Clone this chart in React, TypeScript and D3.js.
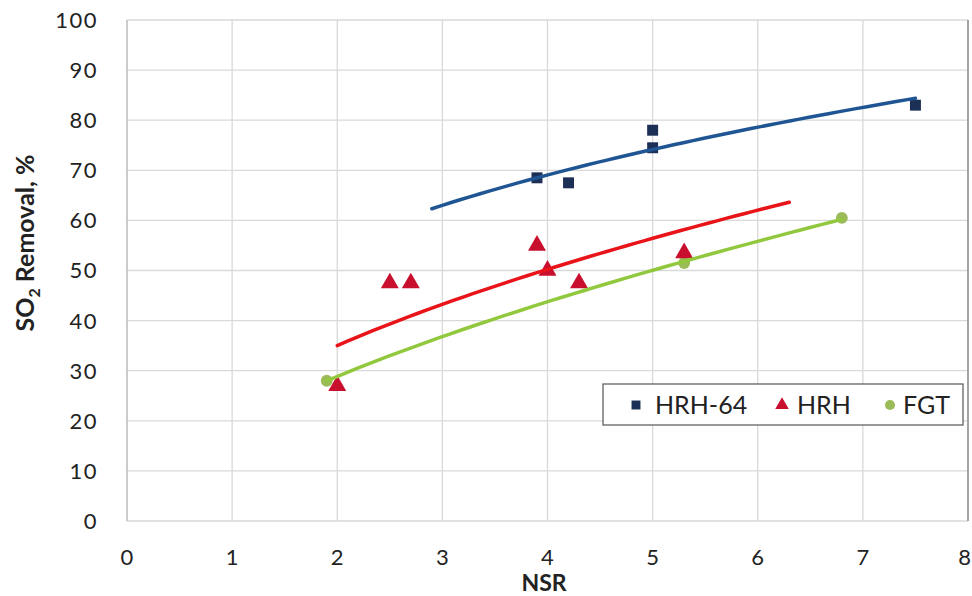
import React, { useEffect, useRef } from 'react';
import * as d3 from 'd3';

const hrh64X = [3.9, 4.2, 5.0, 5.0, 7.5];
const hrh64Y = [68.5, 67.5, 78, 74.5, 83];
const hrhX = [2.0, 2.5, 2.7, 3.9, 4.0, 4.3, 5.3];
const hrhY = [27, 47.5, 47.5, 55, 50, 47.5, 53.5];
const fgtX = [1.9, 5.3, 6.8];
const fgtY = [28, 51.5, 60.5];
// trendline x-ranges (as shown in the chart)
const hrh64Trend = [2.9, 7.5];
const hrhTrend = [2.0, 6.3];
const fgtTrend = [1.9, 6.8];
const xTicks = [0, 1, 2, 3, 4, 5, 6, 7, 8];
const yTicks = [0, 10, 20, 30, 40, 50, 60, 70, 80, 90, 100];

// Excel-style power trendline y = a * x^b
function powerFit(xs: number[], ys: number[]) {
  const lx = xs.map(Math.log);
  const ly = ys.map(Math.log);
  const mx = d3.mean(lx)!;
  const my = d3.mean(ly)!;
  let sxy = 0, sxx = 0;
  lx.forEach((v, i) => { sxy += (v - mx) * (ly[i] - my); sxx += (v - mx) * (v - mx); });
  const b = sxy / sxx;
  const a = Math.exp(my - b * mx);
  return (x: number) => a * Math.pow(x, b);
}

const FONT = 'Lato, "Open Sans", sans-serif';

const App = () => {
  const ref = useRef<SVGSVGElement>(null);

  useEffect(() => {
    const svg = d3.select(ref.current);
    svg.selectAll('*').remove();

    const x = d3.scaleLinear().domain([0, 8]).range([127, 968]);
    const y = d3.scaleLinear().domain([0, 100]).range([521, 20]);

    // grid
    svg.append('g').selectAll('line').data(xTicks).join('line')
      .attr('x1', d => x(d)).attr('x2', d => x(d))
      .attr('y1', y(0)).attr('y2', y(100))
      .attr('stroke', '#d9d9d9').attr('stroke-width', 1.3);
    svg.append('g').selectAll('line').data(yTicks).join('line')
      .attr('x1', x(0)).attr('x2', x(8))
      .attr('y1', d => y(d)).attr('y2', d => y(d))
      .attr('stroke', '#d9d9d9').attr('stroke-width', 1.3);
    svg.append('line').attr('x1', x(0)).attr('x2', x(0)).attr('y1', y(0)).attr('y2', y(100))
      .attr('stroke', '#bfbfbf').attr('stroke-width', 1.3);
    svg.append('line').attr('x1', x(8)).attr('x2', x(8)).attr('y1', y(0)).attr('y2', y(100))
      .attr('stroke', '#808080').attr('stroke-width', 1.3);

    // tick labels
    svg.append('g').selectAll('text').data(yTicks).join('text')
      .attr('x', 98).attr('y', d => y(d)).attr('dy', '0.36em')
      .attr('text-anchor', 'end').attr('font-size', 22).attr('letter-spacing', 1.5)
      .attr('font-family', FONT).attr('fill', '#222').text(d => d);
    // last label sits at the right edge, keep it inside the page
    svg.append('g').selectAll('text').data(xTicks).join('text')
      .attr('x', d => (d === 8 ? 971 : x(d))).attr('y', 557).attr('dy', '0.36em')
      .attr('text-anchor', d => (d === 8 ? 'end' : 'middle')).attr('font-size', 22)
      .attr('font-family', FONT).attr('fill', '#222').text(d => d);

    // axis titles
    svg.append('text').attr('x', 544).attr('y', 591).attr('text-anchor', 'middle')
      .attr('font-size', 23).attr('font-weight', 'bold').attr('font-family', FONT)
      .attr('fill', '#222').text('NSR');
    const yt = svg.append('text')
      .attr('transform', 'translate(34,243) rotate(-90)')
      .attr('text-anchor', 'middle').attr('font-size', 25).attr('font-weight', 'bold')
      .attr('font-family', FONT).attr('fill', '#222');
    yt.append('tspan').text('SO');
    yt.append('tspan').attr('font-size', 16).attr('dy', 6).text('2');
    yt.append('tspan').attr('dy', -6).text(' Removal, %');

    const line = d3.line<number[]>().x(d => x(d[0])).y(d => y(d[1]));
    const trend = (xs: number[], ys: number[], range: number[], color: string) => {
      const f = powerFit(xs, ys);
      const pts = d3.range(0, 51).map(i => {
        const xv = range[0] + (range[1] - range[0]) * i / 50;
        return [xv, f(xv)];
      });
      svg.append('path').attr('d', line(pts)).attr('fill', 'none')
        .attr('stroke', color).attr('stroke-width', 3.5).attr('stroke-linecap', 'round');
    };

    // markers
    const sq = d3.symbol().type(d3.symbolSquare).size(120);
    const tri = d3.symbol().type(d3.symbolTriangle).size(140);
    const circ = d3.symbol().type(d3.symbolCircle).size(110);

    svg.append('g').selectAll('path').data(fgtX).join('path')
      .attr('d', circ).attr('transform', (d, i) => `translate(${x(d)},${y(fgtY[i])})`)
      .attr('fill', '#9bbb59');
    svg.append('g').selectAll('path').data(hrhX).join('path')
      .attr('d', tri).attr('transform', (d, i) => `translate(${x(d)},${y(hrhY[i])})`)
      .attr('fill', '#c8102e');
    svg.append('g').selectAll('path').data(hrh64X).join('path')
      .attr('d', sq).attr('transform', (d, i) => `translate(${x(d)},${y(hrh64Y[i])})`)
      .attr('fill', '#1c2f55');

    trend(hrh64X, hrh64Y, hrh64Trend, '#1f5593');
    trend(hrhX, hrhY, hrhTrend, '#e8141a');
    trend(fgtX, fgtY, fgtTrend, '#92c83e');

    // legend
    const lg = svg.append('g');
    lg.append('rect').attr('x', 603).attr('y', 384).attr('width', 360).attr('height', 41)
      .attr('fill', '#fff').attr('stroke', '#555').attr('stroke-width', 1.2);
    const items = [
      { name: 'HRH-64', type: d3.symbolSquare, color: '#1c2f55', mx: 636, tx: 655 },
      { name: 'HRH', type: d3.symbolTriangle, color: '#c8102e', mx: 782, tx: 797 },
      { name: 'FGT', type: d3.symbolCircle, color: '#9bbb59', mx: 890, tx: 903 },
    ];
    items.forEach(it => {
      lg.append('path').attr('d', d3.symbol().type(it.type).size(80)())
        .attr('transform', `translate(${it.mx},405)`).attr('fill', it.color);
      lg.append('text').attr('x', it.tx).attr('y', 405).attr('dy', '0.36em')
        .attr('font-size', 25).attr('font-family', FONT).attr('fill', '#222').text(it.name);
    });
  }, []);

  return (
    <svg ref={ref} width={972} height={596}
      style={{ position: 'absolute', left: 0, top: 0, background: '#fff' }} />
  );
};

export default App;
